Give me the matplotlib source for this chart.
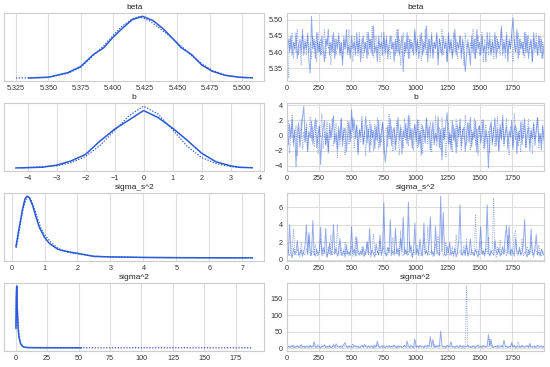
import matplotlib
matplotlib.use("Agg")
import matplotlib.pyplot as plt
import matplotlib.ticker as mtick
import numpy as np

plt.rcParams['font.family'] = ['Liberation Sans', 'DejaVu Sans']

COLOR = "#2a5ad8"
TITLES = ["beta", "b", "sigma_s^2", "sigma^2"]

# ---- density estimates (x, density) per chain ----
beta_kde_x0 = [5.335, 5.350, 5.365, 5.375, 5.385, 5.393, 5.400, 5.407, 5.415, 5.423,
               5.431, 5.439, 5.447, 5.453, 5.461, 5.469, 5.477, 5.487, 5.498, 5.508]
beta_kde_y0 = [0.0, 0.2, 1.4, 3.0, 6.2, 8.0, 10.7, 13.0, 15.4, 16.3,
               15.2, 13.0, 10.2, 8.0, 6.2, 3.4, 1.8, 0.7, 0.2, 0.05]
beta_kde_x1 = [5.325, 5.350, 5.365, 5.375, 5.385, 5.393, 5.400, 5.407, 5.415, 5.420,
               5.428, 5.436, 5.445, 5.453, 5.461, 5.469, 5.477, 5.487, 5.498, 5.505]
beta_kde_y1 = [0.0, 0.2, 1.2, 2.8, 6.0, 8.5, 11.2, 13.6, 15.6, 16.2,
               15.2, 13.2, 10.8, 8.4, 5.9, 3.8, 2.0, 0.8, 0.2, 0.05]

b_kde_x0 = [-4.4, -3.5, -3.0, -2.5, -2.0, -1.5, -1.2, -1.0, -0.5, 0.0,
            0.5, 1.0, 1.5, 2.0, 2.5, 3.0, 3.3, 3.75]
b_kde_y0 = [0.0, 0.004, 0.016, 0.04, 0.078, 0.155, 0.195, 0.223, 0.276, 0.33,
            0.29, 0.229, 0.16, 0.085, 0.035, 0.012, 0.004, 0.001]
b_kde_x1 = [-4.2, -3.0, -2.5, -2.0, -1.5, -1.0, -0.5, 0.0, 0.5, 1.0,
            1.5, 2.0, 2.5, 3.0, 3.4]
b_kde_y1 = [0.0, 0.012, 0.03, 0.066, 0.13, 0.215, 0.30, 0.355, 0.31, 0.22,
            0.125, 0.06, 0.025, 0.008, 0.002]

ss_kde_x0 = [0.134, 0.234, 0.335, 0.41, 0.47, 0.54, 0.64, 0.74, 0.84, 1.0,
             1.15, 1.4, 1.5, 1.8, 2.0, 2.5, 3.0, 3.5, 4.0, 5.0, 6.0, 7.3]
ss_kde_y0 = [0.22, 0.59, 0.95, 1.15, 1.2, 1.17, 1.02, 0.80, 0.60, 0.40,
             0.28, 0.17, 0.15, 0.11, 0.09, 0.03, 0.02, 0.016, 0.01, 0.006, 0.003, 0.002]
ss_kde_x1 = [0.15, 0.25, 0.35, 0.45, 0.52, 0.6, 0.7, 0.8, 0.9, 1.0,
             1.2, 1.4, 1.7, 2.0, 2.5, 3.0, 4.0, 5.0, 6.0, 7.1]
ss_kde_y1 = [0.2, 0.6, 0.95, 1.15, 1.19, 1.12, 0.95, 0.75, 0.57, 0.45,
             0.30, 0.19, 0.11, 0.08, 0.035, 0.02, 0.01, 0.006, 0.004, 0.002]

s2_kde_x0 = [0.3, 0.6, 0.9, 1.3, 2.0, 2.7, 4.0, 5.5, 6.7, 8.5, 10.7, 15, 20, 30, 40, 52]
s2_kde_y0 = [0.10, 0.25, 0.30, 0.20, 0.10, 0.052, 0.02, 0.008, 0.0035, 0.0015,
             0.0008, 0.0004, 0.0002, 0.0001, 0.00005, 0.0]
s2_kde_x1 = [0.3, 0.7, 1.0, 1.5, 2.2, 3.0, 4.2, 6, 8, 12, 20, 40, 80, 120, 160, 188]
s2_kde_y1 = [0.09, 0.28, 0.29, 0.17, 0.09, 0.045, 0.018, 0.006, 0.002, 0.0008,
             0.0003, 0.0001, 0.00005, 0.00003, 0.00002, 0.0]

# ---- traces (thinned readings of the right panels, every ~10th draw) per chain ----
beta_tr0 = [
    5.42, 5.44, 5.40, 5.45, 5.39, 5.43, 5.41, 5.46, 5.38, 5.42, 5.44, 5.40, 5.47, 5.39, 5.43, 5.41, 5.45, 5.37, 5.335, 5.51,
    5.41, 5.44, 5.38, 5.46, 5.40, 5.43, 5.39, 5.45, 5.41, 5.37, 5.44, 5.42, 5.47, 5.39, 5.43, 5.40, 5.46, 5.38, 5.44, 5.41,
    5.45, 5.39, 5.43, 5.36, 5.44, 5.41, 5.47, 5.40, 5.42, 5.38, 5.45, 5.41, 5.43, 5.39, 5.46, 5.40, 5.44, 5.37, 5.42, 5.45,
    5.40, 5.43, 5.38, 5.46, 5.41, 5.44, 5.39, 5.48, 5.40, 5.42, 5.37, 5.45, 5.41, 5.43, 5.39, 5.46, 5.40, 5.44, 5.38, 5.42,
    5.45, 5.41, 5.43, 5.37, 5.44, 5.40, 5.47, 5.39, 5.42, 5.45, 5.34, 5.43, 5.40, 5.46, 5.38, 5.44, 5.41, 5.43, 5.39, 5.47,
    5.40, 5.44, 5.38, 5.42, 5.46, 5.39, 5.43, 5.41, 5.48, 5.37, 5.44, 5.40, 5.45, 5.38, 5.43, 5.41, 5.46, 5.36, 5.44, 5.42,
    5.39, 5.45, 5.41, 5.43, 5.37, 5.46, 5.40, 5.44, 5.38, 5.42, 5.47, 5.39, 5.43, 5.41, 5.45, 5.38, 5.44, 5.40, 5.34, 5.39,
    5.43, 5.41, 5.36, 5.45, 5.40, 5.44, 5.38, 5.47, 5.41, 5.43, 5.39, 5.45, 5.40, 5.42, 5.37, 5.46, 5.41, 5.44, 5.39, 5.43,
    5.40, 5.46, 5.38, 5.44, 5.41, 5.42, 5.48, 5.39, 5.43, 5.40, 5.45, 5.37, 5.44, 5.41, 5.46, 5.505, 5.43, 5.40, 5.47, 5.38,
    5.44, 5.41, 5.43, 5.39, 5.46, 5.40, 5.45, 5.38, 5.42, 5.44, 5.37, 5.46, 5.41, 5.43, 5.39, 5.45, 5.40, 5.44, 5.38, 5.42]
beta_tr1 = [
    5.40, 5.32, 5.44, 5.41, 5.46, 5.38, 5.43, 5.40, 5.47, 5.39, 5.42, 5.36, 5.45, 5.41, 5.44, 5.39, 5.46, 5.40, 5.43, 5.38,
    5.45, 5.41, 5.43, 5.37, 5.46, 5.40, 5.44, 5.39, 5.42, 5.47, 5.38, 5.44, 5.41, 5.43, 5.36, 5.45, 5.40, 5.44, 5.39, 5.42,
    5.46, 5.40, 5.43, 5.38, 5.45, 5.41, 5.44, 5.39, 5.47, 5.40, 5.42, 5.37, 5.45, 5.41, 5.43, 5.39, 5.46, 5.40, 5.44, 5.38,
    5.43, 5.41, 5.46, 5.39, 5.44, 5.40, 5.48, 5.38, 5.42, 5.45, 5.40, 5.43, 5.37, 5.46, 5.41, 5.44, 5.39, 5.45, 5.40, 5.42,
    5.38, 5.45, 5.41, 5.43, 5.39, 5.47, 5.40, 5.44, 5.36, 5.42, 5.46, 5.39, 5.43, 5.41, 5.45, 5.38, 5.44, 5.40, 5.42, 5.46,
    5.39, 5.43, 5.41, 5.45, 5.37, 5.44, 5.40, 5.47, 5.39, 5.42, 5.44, 5.38, 5.46, 5.40, 5.43, 5.41, 5.45, 5.38, 5.44, 5.40,
    5.47, 5.39, 5.42, 5.44, 5.37, 5.45, 5.41, 5.43, 5.39, 5.46, 5.40, 5.44, 5.38, 5.42, 5.45, 5.40, 5.43, 5.36, 5.46, 5.41,
    5.44, 5.39, 5.43, 5.41, 5.47, 5.38, 5.44, 5.40, 5.45, 5.39, 5.42, 5.46, 5.37, 5.44, 5.41, 5.43, 5.39, 5.46, 5.40, 5.44,
    5.38, 5.42, 5.45, 5.40, 5.43, 5.39, 5.47, 5.41, 5.44, 5.38, 5.46, 5.40, 5.43, 5.41, 5.45, 5.37, 5.44, 5.40, 5.42, 5.46,
    5.39, 5.44, 5.41, 5.43, 5.38, 5.46, 5.40, 5.45, 5.41, 5.43, 5.37, 5.44, 5.40, 5.46, 5.39, 5.42, 5.45, 5.38, 5.43, 5.41]

b_tr0 = [
    0.3, -1.2, 1.5, -0.4, 2.1, -0.9, 0.8, -4.1, 0.6, 1.7, -1.5, 0.2, 2.4, 3.87, -0.7, 1.1, -2.0, 0.5, -0.3, 1.9,
    -1.1, 0.7, 2.2, -1.6, 0.1, 1.3, -3.8, -0.5, 0.9, 2.0, -1.3, 0.4, -2.3, 1.6, -0.2, 0.8, 2.6, -1.0, 0.3, -1.8,
    1.2, -0.6, 2.3, -1.4, 0.5, 1.0, -2.1, 0.2, 1.8, -0.8, 3.4, 0.6, 2.1, -0.4, 1.4, -2.5, 0.7, -0.1, 1.9, -1.2,
    0.4, 2.5, -1.0, 0.9, -2.2, 1.5, -0.3, 0.6, -1.7, 1.2, -0.7, 2.0, -1.5, 0.3, 1.7, -0.9, -3.5, -2.0, 1.3, -0.4,
    2.2, -1.3, 0.5, 1.1, -1.9, 0.2, 2.4, -0.6, 1.0, -2.4, 0.7, -0.2, 1.6, -1.1, 2.7, -0.5, 0.9, -1.7, 0.4, 1.5,
    -0.8, 2.1, -1.4, 0.6, -2.6, 1.3, 0.1, -1.0, 2.3, -0.3, 1.2, -2.0, 0.5, 1.8, -1.2, 0.3, -0.7, 2.5, -1.6, 0.8,
    -3.2, 1.0, -0.5, 1.6, 3.0, -1.1, 0.4, -1.9, 2.0, -0.6, 0.9, -2.3, 1.4, -0.2, 2.2, -1.4, 0.6, 1.1, -2.1, 0.3,
    1.7, -0.9, 2.4, -1.5, 0.5, -0.3, 1.9, -2.2, 0.8, 1.3, -1.0, 0.2, 2.1, -1.7, 0.7, -0.4, -4.26, 1.0, 1.6, -1.2,
    0.4, 2.3, -1.3, 0.9, -2.0, 1.5, -0.6, 2.7, -1.1, 0.3, 1.2, -1.8, 0.6, -0.2, 2.0, -1.5, 0.8, 1.4, -2.4, 0.5,
    -0.7, 1.8, -1.2, 0.9, 2.2, -1.6, 0.2, 1.1, -2.0, 0.6, -0.4, 1.7, -1.3, 0.8, 2.4, -0.9, 0.3, -1.9, 1.2, -0.5]
b_tr1 = [
    -0.8, 1.9, -2.3, 0.6, 2.8, -1.4, 0.2, 1.3, -2.7, 0.9, -0.4, 2.2, -1.8, 0.5, -1.0, 1.7, -2.1, 0.8, 2.5, -0.6,
    1.2, -1.5, 0.3, 2.0, -2.4, 1.1, -0.2, 2.9, -1.7, 0.4, -1.1, 1.8, -2.0, 0.7, -0.5, 2.3, -1.3, 0.1, 1.6, -2.9,
    0.6, -1.4, 2.1, -0.7, 1.0, -2.5, 0.4, 1.9, -1.2, 0.8, -0.3, 2.4, -1.6, 0.2, 1.3, -2.2, 0.9, -0.8, 2.6, -1.0,
    0.5, -2.7, 1.4, -0.1, 2.0, -1.3, 0.7, -2.0, 1.5, -0.6, 2.3, -1.8, 0.3, -0.9, 1.7, -2.3, 0.6, 1.1, -1.5, 2.8,
    -0.4, 1.2, -2.1, 0.8, -1.1, 1.9, -0.2, -2.6, 1.4, 0.3, -1.7, 2.2, -0.7, 1.0, -1.4, 2.5, -0.5, 0.9, -2.0, 1.3,
    0.2, -1.6, 2.0, -0.9, 1.5, -2.4, 0.7, -0.3, 2.2, -1.2, 0.4, 1.8, -2.1, 0.9, -0.6, 2.6, -1.4, 0.3, 1.1, -1.9,
    2.4, -0.5, 1.0, -2.8, 0.6, 1.7, -1.1, 0.2, -2.2, 1.4, -0.8, 2.1, -1.5, 0.5, 1.2, -2.0, 0.8, -0.4, 2.7, -1.3,
    0.1, 1.6, -1.9, 0.7, -0.6, 2.3, -1.2, 0.9, -2.6, 1.3, -0.2, 2.0, -1.7, 0.4, 1.5, -1.0, 0.6, -2.3, 1.9, -0.7,
    1.1, -1.5, 0.3, 2.5, -2.1, 0.8, -0.4, 1.7, -1.3, 0.5, 2.2, -0.9, -2.5, 1.2, 0.2, -1.8, 2.9, -0.6, 1.0, -1.4,
    0.7, -2.2, 1.8, -0.3, 1.3, -1.6, 0.4, 2.1, -1.0, 0.9, -2.4, 1.5, -0.5, 0.6, 2.3, -1.7, 0.2, -0.8, 1.4, -1.1]

ss_tr0 = [
    0.8, 0.5, 4.0, 0.9, 0.2, 1.3, 0.6, 1.0, 2.2, 0.5, 0.7, 1.1, 0.4, 0.9, 1.6, 4.0, 0.6, 3.1, 0.8, 0.5,
    4.5, 0.7, 0.4, 1.2, 0.6, 0.9, 3.7, 0.5, 1.4, 0.7, 3.6, 0.3, 0.8, 1.9, 0.5, 1.0, 4.0, 0.6, 1.3, 0.4,
    0.9, 2.4, 0.5, 0.7, 1.1, 0.3, 1.7, 0.6, 0.9, 0.5, 3.8, 0.7, 1.2, 0.4, 2.6, 0.8, 0.5, 1.0, 0.6, 1.5,
    0.4, 0.8, 2.1, 0.6, 3.6, 0.5, 1.1, 0.7, 0.3, 1.8, 0.9, 0.5, 2.8, 0.6, 1.2, 6.5, 0.7, 0.4, 1.4, 0.8,
    4.6, 0.6, 1.0, 0.5, 3.6, 0.7, 1.3, 0.4, 2.5, 0.9, 4.9, 0.6, 1.1, 0.5, 6.6, 0.8, 1.6, 0.3, 0.9, 4.2,
    0.6, 1.2, 0.5, 2.3, 0.8, 0.4, 4.2, 0.7, 1.0, 0.5, 1.8, 4.9, 0.6, 0.9, 0.4, 3.8, 1.2, 0.7, 0.5, 7.3,
    1.0, 5.4, 0.6, 0.4, 1.5, 0.8, 2.0, 0.5, 0.9, 0.6, 1.3, 0.3, 0.8, 2.2, 6.3, 0.7, 0.5, 1.1, 0.6, 1.7,
    0.4, 0.9, 2.4, 0.6, 0.8, 0.5, 1.2, 0.7, 0.3, 1.6, 3.8, 0.6, 1.0, 0.5, 1.4, 6.3, 0.8, 0.4, 1.1, 0.7,
    0.5, 2.2, 0.9, 0.6, 1.3, 0.4, 0.8, 1.5, 0.6, 2.7, 3.9, 0.7, 3.8, 0.5, 1.2, 0.8, 0.4, 2.4, 0.9, 0.6,
    1.4, 0.5, 0.8, 1.9, 4.6, 0.7, 0.3, 1.1, 0.6, 3.5, 0.8, 0.5, 1.3, 2.9, 0.6, 0.9, 0.4, 1.2, 0.7, 0.5]
ss_tr1 = [
    0.6, 1.1, 0.4, 0.8, 1.5, 3.5, 0.7, 0.5, 1.2, 0.9, 0.3, 2.0, 0.6, 0.8, 0.5, 1.3, 0.7, 2.8, 0.4, 0.9,
    1.0, 0.5, 1.7, 0.6, 0.4, 0.9, 2.3, 0.7, 0.5, 1.1, 0.8, 0.3, 1.4, 0.6, 2.9, 0.5, 0.9, 0.7, 1.2, 4.0,
    0.5, 0.8, 1.3, 0.4, 0.7, 2.1, 0.6, 1.0, 0.5, 0.9, 1.6, 0.4, 0.7, 2.6, 0.5, 1.1, 0.8, 0.6, 1.4, 0.4,
    0.9, 0.6, 1.9, 0.5, 0.8, 0.3, 1.2, 3.0, 0.7, 0.5, 1.0, 0.6, 2.2, 0.4, 0.9, 1.5, 0.6, 0.8, 0.5, 1.3,
    0.7, 0.4, 2.5, 0.9, 0.6, 1.1, 0.5, 0.8, 3.3, 0.6, 0.4, 1.4, 0.7, 1.0, 0.5, 2.0, 0.8, 0.3, 1.2, 0.6,
    0.9, 1.7, 0.5, 0.7, 0.4, 1.3, 2.4, 0.6, 0.9, 3.8, 0.5, 0.8, 1.1, 0.4, 0.7, 1.8, 0.6, 2.7, 0.5, 0.9,
    1.2, 0.4, 0.7, 2.0, 0.6, 1.0, 0.5, 0.8, 1.5, 0.3, 0.9, 2.9, 0.6, 0.7, 1.1, 0.5, 0.8, 1.6, 0.4, 2.3,
    0.6, 0.9, 0.5, 1.2, 0.7, 0.4, 5.2, 0.8, 1.0, 0.5, 2.1, 0.6, 0.9, 0.4, 1.3, 0.7, 2.6, 0.5, 0.8, 1.1,
    7.1, 0.6, 0.2, 1.4, 0.8, 2.2, 0.5, 0.9, 0.7, 1.2, 0.4, 2.8, 0.6, 1.0, 0.5, 0.8, 3.0, 3.4, 0.7, 0.5,
    1.1, 0.6, 2.4, 0.4, 0.9, 0.7, 1.5, 0.5, 0.8, 2.0, 0.6, 0.3, 1.2, 0.9, 0.5, 1.7, 0.7, 0.4, 1.0, 0.6]

s2_tr0 = [
    4, 7, 3, 5, 9, 2, 6, 4, 8, 3, 5, 11, 4, 6, 2, 7, 5, 3, 9, 4,
    6, 20, 3, 5, 8, 4, 2, 7, 5, 10, 3, 6, 4, 8, 2, 5, 9, 3, 14, 6,
    4, 7, 3, 5, 12, 18, 6, 2, 8, 4, 5, 3, 9, 6, 4, 7, 2, 5, 10, 3,
    12, 6, 4, 8, 3, 5, 7, 2, 9, 4, 22, 5, 3, 6, 8, 4, 2, 7, 5, 9,
    3, 6, 4, 10, 5, 2, 8, 4, 7, 3, 5, 9, 4, 22, 6, 3, 8, 5, 2, 28,
    4, 7, 3, 9, 5, 6, 2, 8, 4, 10, 5, 35, 6, 27, 3, 7, 4, 9, 5, 52,
    8, 4, 6, 3, 9, 5, 7, 20, 4, 6, 3, 8, 5, 2, 10, 4, 7, 3, 6, 5,
    9, 4, 6, 3, 8, 5, 2, 7, 11, 4, 6, 3, 9, 5, 4, 8, 42, 6, 26, 3,
    5, 7, 4, 9, 3, 6, 8, 4, 25, 5, 7, 3, 6, 4, 18, 5, 8, 3, 6, 4,
    7, 3, 9, 5, 4, 6, 8, 3, 15, 5, 4, 7, 3, 6, 9, 4, 5, 8, 3, 6]
s2_tr1 = [
    5, 3, 8, 4, 6, 10, 3, 5, 7, 4, 9, 2, 6, 4, 8, 3, 5, 7, 4, 6,
    3, 8, 5, 4, 11, 6, 3, 7, 5, 9, 4, 6, 3, 8, 5, 4, 13, 6, 3, 7,
    5, 4, 8, 3, 6, 9, 4, 5, 7, 3, 6, 15, 4, 8, 5, 3, 7, 4, 6, 9,
    4, 7, 3, 6, 5, 8, 4, 9, 3, 6, 12, 5, 4, 7, 3, 8, 5, 6, 4, 7,
    3, 6, 9, 4, 5, 8, 3, 7, 4, 6, 5, 9, 3, 8, 4, 6, 10, 5, 3, 7,
    6, 4, 8, 3, 5, 7, 4, 9, 6, 3, 5, 8, 4, 6, 12, 3, 7, 5, 4, 8,
    5, 3, 7, 4, 9, 6, 3, 8, 5, 4, 6, 3, 8, 5, 4, 7, 3, 9, 5, 188,
    4, 8, 3, 6, 5, 7, 4, 9, 3, 6, 5, 4, 8, 3, 7, 6, 4, 30, 5, 8,
    3, 7, 5, 4, 9, 6, 3, 8, 4, 5, 7, 3, 6, 4, 12, 5, 8, 3, 6, 20,
    4, 6, 3, 8, 5, 7, 4, 9, 3, 6, 5, 4, 7, 3, 8, 6, 4, 5, 3, 7]

N_DRAWS = 2000

kdes = [
    [(beta_kde_x0, beta_kde_y0), (beta_kde_x1, beta_kde_y1)],
    [(b_kde_x0, b_kde_y0), (b_kde_x1, b_kde_y1)],
    [(ss_kde_x0, ss_kde_y0), (ss_kde_x1, ss_kde_y1)],
    [(s2_kde_x0, s2_kde_y0), (s2_kde_x1, s2_kde_y1)],
]
traces = [
    [beta_tr0, beta_tr1],
    [b_tr0, b_tr1],
    [ss_tr0, ss_tr1],
    [s2_tr0, s2_tr1],
]
kde_steps = [0.025, 1, 1, 25]
trace_ysteps = [0.05, 2, 2, 50]

LINESTYLES = ["-", (0, (1, 1.3))]

fig = plt.figure(figsize=(5.5, 3.67), dpi=100)

row_bottoms = [0.779, 0.534, 0.289, 0.044]
row_h = 0.185


def style_axes(ax):
    for sp in ax.spines.values():
        sp.set_color("#cccccc")
        sp.set_linewidth(0.8)
    ax.grid(True, color="#dddddd", linewidth=0.8)
    ax.set_axisbelow(True)
    ax.tick_params(length=0, labelsize=5.2, colors="#333333", pad=3)


for r in range(4):
    # left: density per chain
    axl = fig.add_axes([0.0075, row_bottoms[r], 0.4727, row_h])
    style_axes(axl)
    for (xs, ys), ls in zip(kdes[r], LINESTYLES):
        axl.plot(xs, ys, color=COLOR, linestyle=ls, linewidth=1.1 if ls == "-" else 0.9)
    axl.set_yticks([])
    axl.xaxis.set_major_locator(mtick.MultipleLocator(kde_steps[r]))
    if r == 0:
        axl.xaxis.set_major_formatter(mtick.FormatStrFormatter("%.3f"))
    axl.set_title(TITLES[r], fontsize=6, color="#222222", pad=3)

    # right: trace per chain
    axr = fig.add_axes([0.5218, row_bottoms[r], 0.4673, row_h])
    style_axes(axr)
    for vals, ls in zip(traces[r], LINESTYLES):
        draws = np.linspace(0, N_DRAWS - 1, len(vals))
        axr.plot(draws, vals, color=COLOR, linestyle=ls, linewidth=0.7, alpha=0.5)
    axr.set_xlim(0, N_DRAWS - 1)
    axr.xaxis.set_major_locator(mtick.MultipleLocator(250))
    axr.yaxis.set_major_locator(mtick.MultipleLocator(trace_ysteps[r]))
    if r == 0:
        axr.yaxis.set_major_formatter(mtick.FormatStrFormatter("%.2f"))
    axr.set_title(TITLES[r], fontsize=6, color="#222222", pad=3)

fig.savefig("out.png", dpi=100)
